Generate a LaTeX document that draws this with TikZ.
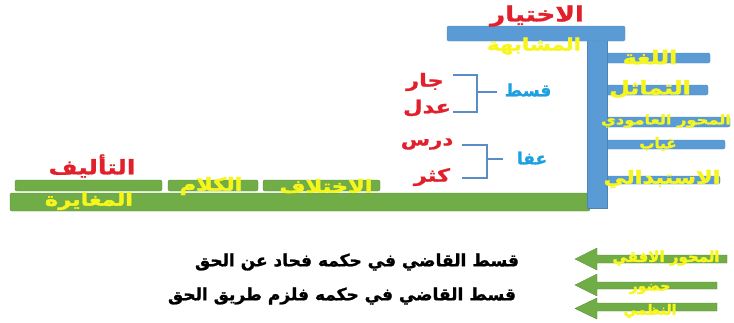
\documentclass[tikz,border=0pt]{standalone}
\usepackage{fontspec}
\newfontfamily\arn[Script=Arabic,FakeBold=1.2]{DejaVu Sans}
\newfontfamily\ars[Script=Arabic,FakeBold=1.2,FakeStretch=1.25]{DejaVu Sans}
\newfontfamily\aro[Script=Arabic,FakeBold=2.2,FakeStretch=1.25]{DejaVu Sans}
\newfontfamily\arno[Script=Arabic,FakeBold=2.2]{DejaVu Sans}
\TeXXeTstate=1
\definecolor{barblue}{HTML}{5B9BD5}
\definecolor{bargreen}{HTML}{70AD47}
\definecolor{yel}{HTML}{F6F61E}
\definecolor{redt}{HTML}{E2202B}
\definecolor{bluet}{HTML}{1E9FE0}
\definecolor{brk}{HTML}{5A8DC8}
\tikzset{
  bar/.style={inner sep=0pt, outer sep=0pt, anchor=north west, rounded corners=2pt},
  bluebar/.style={bar, fill=barblue, draw=barblue!85!black, line width=0.4pt},
  greenbar/.style={bar, fill=bargreen, draw=bargreen!80!black, line width=0.4pt},
  txt/.style={inner sep=0pt, outer sep=0pt},
  yt/.style={txt, text=yel, font=\aro\bfseries\fontsize{#1}{#1}\selectfont},
  yn/.style={txt, text=yel, font=\arno\bfseries\fontsize{#1}{#1}\selectfont},
  rt/.style={txt, text=redt, font=\ars\bfseries\fontsize{#1}{#1}\selectfont},
  bt/.style={txt, text=bluet, font=\arn\bfseries\fontsize{#1}{#1}\selectfont},
  kt/.style={txt, text=black, font=\arn\bfseries\fontsize{#1}{#1}\selectfont},
  brkline/.style={draw=brk, line width=1.5pt},
  garrow/.style={fill=bargreen, draw=bargreen!80!black, line width=0.4pt},
}
\begin{document}
\begin{tikzpicture}[x=1pt,y=-1pt]
\useasboundingbox (0,0) rectangle (734,322);
% green horizontal structure
\node[greenbar, minimum width=580, minimum height=18] (gmain) at (10,193) {};
\node[greenbar, minimum width=147, minimum height=11] (g1) at (15,180) {};
\node[greenbar, minimum width=90, minimum height=11] (g2) at (168,180) {};
\node[greenbar, minimum width=117, minimum height=11] (g3) at (263,180) {};
% blue vertical structure
\node[bluebar, minimum width=106, minimum height=10] (b1) at (604,53) {};
\node[bluebar, minimum width=104, minimum height=10] (b2) at (604,85) {};
\node[bluebar, minimum width=126, minimum height=10] (b3) at (604,117) {};
\node[bluebar, minimum width=121, minimum height=9] (b4) at (604,140) {};
\node[bluebar, minimum width=116, minimum height=8] (b5) at (604,176) {};
\node[bluebar, minimum width=20, minimum height=170, rounded corners=0pt] (bv) at (587,38) {};
\node[bluebar, minimum width=178, minimum height=15] (btop) at (447,26) {};
% texts on blue structure
\node[rt=21] (ikh) at (537,16) {\beginR الاختيار\endR};
\node[yt=17] (mush) at (534,46) {\beginR المشابهة\endR};
\node[yt=19] (lugha) at (650,57) {\beginR اللغة\endR};
\node[yt=19] (tamathul) at (650,89) {\beginR التماثل\endR};
\node[yt=13] (amudi) at (666,121) {\beginR المحور العامودي\endR};
\node[yn=15] (ghiyab) at (658,144) {\beginR غياب\endR};
\node[yt=18] (istibdali) at (662,179) {\beginR الاستبدالي\endR};
% texts on green structure
\node[rt=20] (talif) at (92,166) {\beginR التأليف\endR};
\node[yt=18] (mughayara) at (89,201) {\beginR المغايرة\endR};
\node[yt=18] (kalam) at (211,186) {\beginR الكلام\endR};
\node[yt=18] (ikhtilaf) at (326,186) {\beginR الاختلاف\endR};
% brackets
\node[rt=18] (jar) at (425,82) {\beginR جار\endR};
\node[rt=18] (adl) at (427,108) {\beginR عدل\endR};
\node[bt=17] (qist) at (528,90) {\beginR قسط\endR};
\node[rt=17] (dars) at (427,144) {\beginR درس\endR};
\node[rt=18] (kathr) at (432,177) {\beginR كثر\endR};
\node[bt=17] (afa) at (532,158) {\beginR عفا\endR};
\coordinate (q1) at (477,75);
\coordinate (q2) at (477,112);
\coordinate (q3) at (477,92);
\coordinate (q4) at (497,92);
\draw[brkline] (453,75) -- (q1) -- (q2) -- (453,112);
\draw[brkline] (q3) -- (q4);
\coordinate (a1) at (487,145);
\coordinate (a2) at (487,178);
\coordinate (a3) at (487,159);
\coordinate (a4) at (503,159);
\draw[brkline] (462,145) -- (a1) -- (a2) -- (462,178);
\draw[brkline] (a3) -- (a4);
% bottom arrows
\draw[garrow] (727,255) -- (597,255) -- (597,248) -- (575,259) -- (597,270) -- (597,263) -- (727,263) -- cycle;
\draw[garrow] (717,282) -- (597,282) -- (597,274) -- (575,285) -- (597,296) -- (597,289) -- (717,289) -- cycle;
\draw[garrow] (717,303) -- (597,303) -- (597,298) -- (575,308.5) -- (597,319) -- (597,311) -- (717,311) -- cycle;
\node[yn=15] (ufuqi) at (666,258) {\beginR المحور الافقي\endR};
\node[yn=14] (hudur) at (650,289) {\beginR حضور\endR};
\node[yn=14] (nazmi) at (650,311) {\beginR النظمي\endR};
% sentences
\node[kt=17] (s1) at (357,262) {\beginR{\color{bargreen}قسط} القاضي في حكمه فحاد عن الحق\endR};
\node[kt=17] (s2) at (342,296) {\beginR{\color{bargreen}قسط} القاضي في حكمه فلزم طريق الحق\endR};
\end{tikzpicture}
\end{document}
